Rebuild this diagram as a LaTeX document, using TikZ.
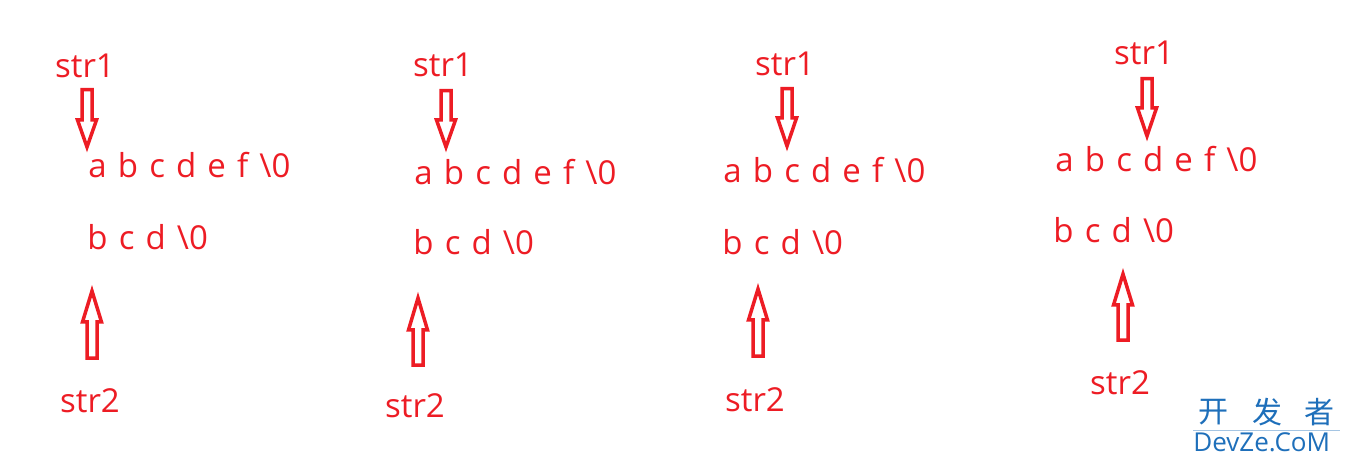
\documentclass[tikz,border=0pt]{standalone}
\usepackage{fontspec}
\setmainfont{Open Sans}[WordSpace=1.3]
\newfontfamily\cjk{Noto Sans CJK SC}
\definecolor{pred}{HTML}{ED1C24}
\definecolor{wblue}{HTML}{1E6FBA}
\tikzset{
  lbl/.style={text=pred,font=\fontsize{16.5}{18}\selectfont,inner sep=0pt},
  blk/.style={draw=pred,line width=1.75pt,line join=miter},
  wm/.style={text=wblue,inner sep=0pt}
}
% x, top of shaft, start of head, tip
\newcommand\myDn[4]{%
  \draw[blk] ({#1-5},{#2+1.75}) -- ({#1+5},{#2+1.75}) -- ({#1+5},#3) -- ({#1+9.5},#3)
    -- (#1,{#4-6}) -- ({#1-9.5},#3) -- ({#1-5},#3) -- cycle;}
% x, bottom of shaft, base of head, tip
\newcommand\myUp[4]{%
  \draw[blk] ({#1-5},{#2-1.75}) -- ({#1+5},{#2-1.75}) -- ({#1+5},#3) -- ({#1+9.5},#3)
    -- (#1,{#4+6}) -- ({#1-9.5},#3) -- ({#1-5},#3) -- cycle;}
\begin{document}
\begin{tikzpicture}[x=0.5pt,y=-0.5pt]
\useasboundingbox (0,0) rectangle (1349,464);
% group 1
\node[lbl,anchor=base] (s1a) at (85,78) {str1};
\myDn{87}{88}{120}{153}
\node[lbl,anchor=base west] (la) at (88,178) {a b c d e f \textbackslash0};
\node[lbl,anchor=base west] (lb) at (87,250) {b c d \textbackslash0};
\myUp{92}{360}{322}{285}
\node[lbl,anchor=base] (s2a) at (90,413) {str2};
% group 2
\node[lbl,anchor=base] (s1b) at (443,77) {str1};
\myDn{446}{89}{120}{153}
\node[lbl,anchor=base west] (lc) at (414,185) {a b c d e f \textbackslash0};
\node[lbl,anchor=base west] (ld) at (413,255) {b c d \textbackslash0};
\myUp{418}{367}{330}{292}
\node[lbl,anchor=base] (s2b) at (415,418) {str2};
% group 3
\node[lbl,anchor=base] (s1c) at (785,76) {str1};
\myDn{787}{87}{118}{152}
\node[lbl,anchor=base west] (le) at (723,183) {a b c d e f \textbackslash0};
\node[lbl,anchor=base west] (lf) at (722,255) {b c d \textbackslash0};
\myUp{758}{358}{320}{283}
\node[lbl,anchor=base] (s2c) at (755,412) {str2};
% group 4
\node[lbl,anchor=base] (s1d) at (1144,65) {str1};
\myDn{1147}{77}{108}{142}
\node[lbl,anchor=base west] (lg) at (1055,172) {a b c d e f \textbackslash0};
\node[lbl,anchor=base west] (lh) at (1053,243) {b c d \textbackslash0};
\myUp{1123}{342}{305}{268}
\node[lbl,anchor=base] (s2d) at (1120,395) {str2};
% watermark
\node[wm,font=\cjk\fontsize{15}{16}\selectfont] (w1) at (1213,412) {开};
\node[wm,font=\cjk\fontsize{15}{16}\selectfont] (w2) at (1267,412) {发};
\node[wm,font=\cjk\fontsize{15}{16}\selectfont] (w3) at (1319,412) {者};
\draw[wblue!40,line width=0.4pt] (1193,430) -- (1340,430);
\node[wm,font=\fontsize{13}{14}\selectfont,anchor=west] (w4) at (1193,442) {DevZe.CoM};
\end{tikzpicture}
\end{document}
